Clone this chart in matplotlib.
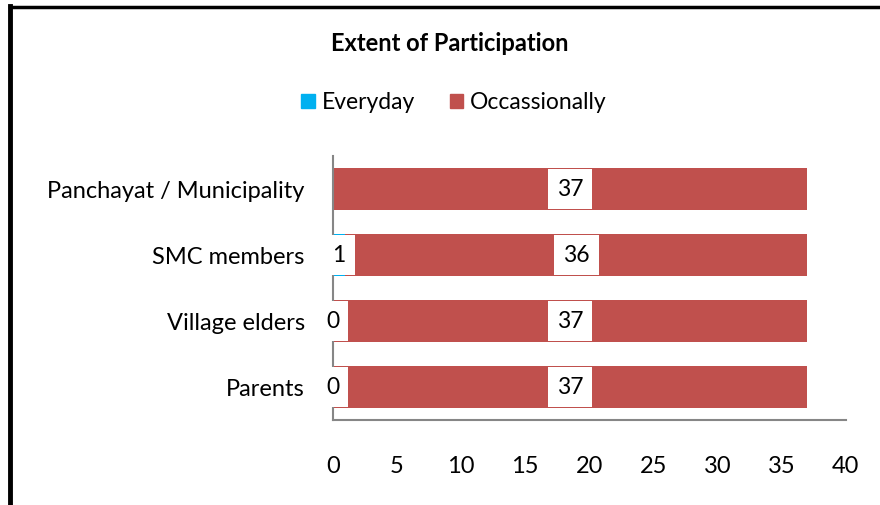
import numpy as np
import matplotlib.pyplot as plt
from matplotlib.lines import Line2D
from matplotlib.patches import Patch

plt.rcParams['font.family'] = ['Lato', 'DejaVu Sans']

categories = ['Parents', 'Village elders', 'SMC members', 'Panchayat / Municipality']
everyday = [0, 0, 1, np.nan]
occasionally = [37, 37, 36, 37]
xticks = [0, 5, 10, 15, 20, 25, 30, 35, 40]

blue = '#00B0F0'
red = '#C0504D'

fig = plt.figure(figsize=(8.8, 5.05), dpi=100)
ax = fig.add_axes([0.378, 0.168, 0.583, 0.523])

y = np.arange(len(categories))
ev = np.nan_to_num(everyday)
ax.barh(y, ev, height=0.64, color=blue)
ax.barh(y, occasionally, left=ev, height=0.64, color=red)

box = dict(facecolor='white', edgecolor='none', boxstyle='square,pad=0.4')
for i in range(len(categories)):
    if not np.isnan(everyday[i]):
        ax.text(everyday[i] / 2, y[i], str(everyday[i]), ha='center', va='center',
                fontsize=16.5, bbox=box)
    ax.text(ev[i] + occasionally[i] / 2, y[i], str(occasionally[i]), ha='center',
            va='center', fontsize=16.5, bbox=box)

ax.set_xlim(0, 40)
ax.set_ylim(-0.5, 3.5)
ax.set_xticks(xticks)
ax.set_yticks(y)
ax.set_yticklabels(categories)
ax.tick_params(axis='both', length=0, labelsize=17)
ax.tick_params(axis='x', pad=26)
ax.tick_params(axis='y', pad=20)
for s in ['top', 'right']:
    ax.spines[s].set_visible(False)
for s in ['left', 'bottom']:
    ax.spines[s].set_color('#868686')
    ax.spines[s].set_linewidth(1.5)

fig.text(0.511, 0.913, 'Extent of Participation', ha='center', va='center',
         fontsize=17, fontweight='bold')
handles = [Patch(color=blue, label='Everyday'), Patch(color=red, label='Occassionally')]
fig.legend(handles=handles, loc='center', bbox_to_anchor=(0.516, 0.797), ncol=2,
           frameon=False, fontsize=16.5, handlelength=0.6, handleheight=0.6,
           handletextpad=0.3, columnspacing=1.5)

# chart frame (left and top edges visible)
fig.add_artist(Line2D([0.0114, 0.0114], [0, 0.988], color='black', lw=3.5,
                      transform=fig.transFigure))
fig.add_artist(Line2D([0.0114, 1], [0.987, 0.987], color='black', lw=2.5,
                      transform=fig.transFigure))

fig.savefig('out.png', dpi=100, facecolor='white')
